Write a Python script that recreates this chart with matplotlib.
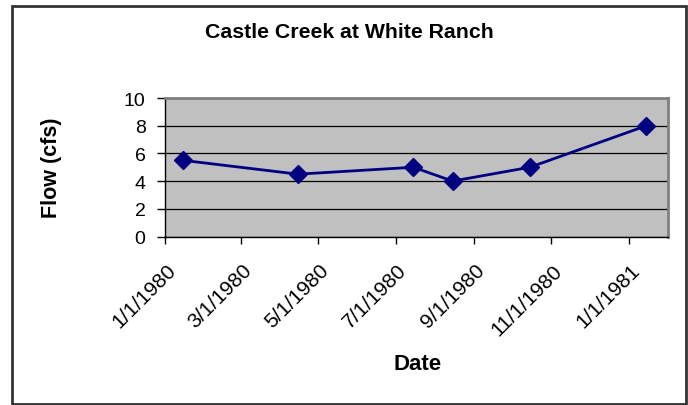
import datetime as dt
import matplotlib
matplotlib.use("Agg")
import matplotlib.pyplot as plt
import matplotlib.dates as mdates
from matplotlib.patches import Rectangle
from matplotlib.transforms import ScaledTranslation

plt.rcParams["font.family"] = ["Liberation Sans", "DejaVu Sans"]

# Flow measurements at the gauge
dates = [
    dt.date(1980, 1, 15),
    dt.date(1980, 4, 15),
    dt.date(1980, 7, 15),
    dt.date(1980, 8, 15),
    dt.date(1980, 10, 15),
    dt.date(1981, 1, 15),
]
flow_cfs = [5.5, 4.5, 5.0, 4.0, 5.0, 8.0]

tick_dates = [dt.date(1980, m, 1) for m in (1, 3, 5, 7, 9, 11)] + [dt.date(1981, 1, 1)]
tick_labels = ["1/1/1980", "3/1/1980", "5/1/1980", "7/1/1980", "9/1/1980", "11/1/1980", "1/1/1981"]
y_ticks = [0, 2, 4, 6, 8, 10]

W, H = 688, 406
fig = plt.figure(figsize=(W / 100, H / 100), dpi=100)
fig.patch.set_facecolor("white")

# chart border
fig.add_artist(Rectangle((12 / W, 1 - 404.5 / H), (686 - 12) / W, (404.5 - 6.5) / H,
                         transform=fig.transFigure, fill=False,
                         edgecolor="#333333", linewidth=2.0))

ax = fig.add_axes([165 / W, 1 - 237.5 / H, (668 - 165) / W, (237.5 - 99) / H])
ax.set_facecolor("#C0C0C0")

ax.plot(dates, flow_cfs, color="#000080", linewidth=2.0, marker="D",
        markersize=9.5, markerfacecolor="#000080", markeredgecolor="#000080",
        zorder=3, clip_on=False)

ax.set_xlim(dt.date(1980, 1, 1), dt.date(1981, 2, 1))
ax.set_ylim(0, 10)
ax.set_yticks(y_ticks)
ax.set_yticklabels([str(v) for v in y_ticks])
ax.yaxis.grid(True, color="black", linewidth=0.9)
ax.set_axisbelow(True)

ax.set_xticks([mdates.date2num(d) for d in tick_dates])
ax.set_xticklabels(tick_labels, rotation=45, ha="right", va="center",
                   rotation_mode="anchor")
ax.tick_params(axis="x", direction="out", length=5, width=1, pad=17, labelsize=15,
               color="black")
ax.tick_params(axis="y", direction="out", length=6, width=1, pad=8, labelsize=14,
               color="black")
shift = ScaledTranslation(8 / 100, 0, fig.dpi_scale_trans)
for lab in ax.get_xticklabels():
    lab.set_transform(lab.get_transform() + shift)

for side in ("left", "bottom"):
    ax.spines[side].set_color("black")
    ax.spines[side].set_linewidth(1.0)
for side in ("top", "right"):
    ax.spines[side].set_color("#808080")
    ax.spines[side].set_linewidth(2.0)

fig.text(349 / W, 1 - 33 / H, "Castle Creek at White Ranch", ha="center", va="center",
         fontsize=15.3, fontweight="bold")
fig.text(418 / W, 1 - 365 / H, "Date", ha="center", va="center",
         fontsize=16, fontweight="bold")
fig.text(52 / W, 1 - 168 / H, "Flow (cfs)", ha="center", va="center", rotation=90,
         fontsize=15.5, fontweight="bold")

fig.savefig("out.png", dpi=100, facecolor="white")
